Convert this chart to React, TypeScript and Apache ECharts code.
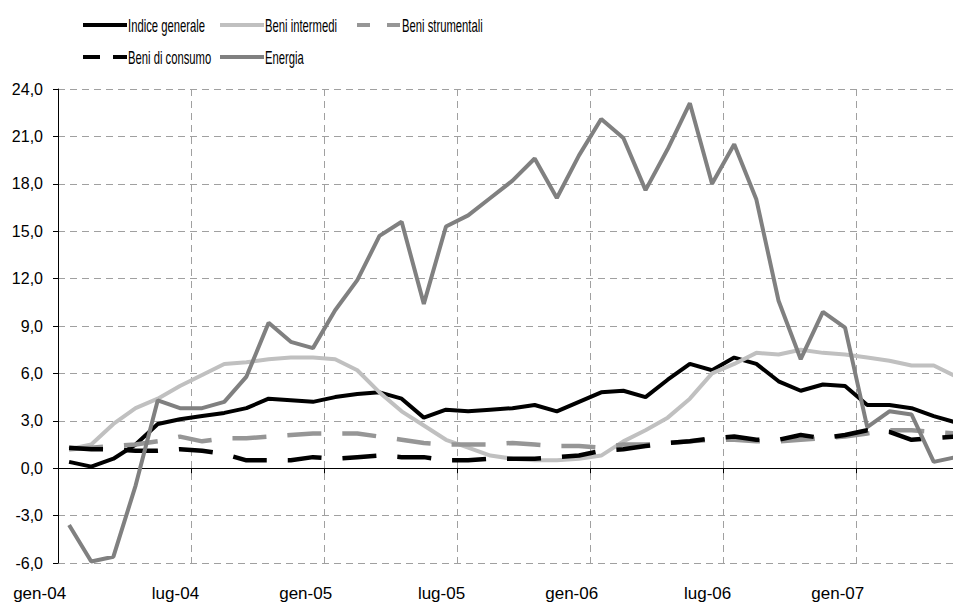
import React, { useEffect, useRef } from "react";
import * as echarts from "echarts";

const months = [
  "gen-04", "feb-04", "mar-04", "apr-04", "mag-04", "giu-04", "lug-04", "ago-04", "set-04", "ott-04", "nov-04", "dic-04",
  "gen-05", "feb-05", "mar-05", "apr-05", "mag-05", "giu-05", "lug-05", "ago-05", "set-05", "ott-05", "nov-05", "dic-05",
  "gen-06", "feb-06", "mar-06", "apr-06", "mag-06", "giu-06", "lug-06", "ago-06", "set-06", "ott-06", "nov-06", "dic-06",
  "gen-07", "feb-07", "mar-07", "apr-07", "mag-07",
];

const indiceGenerale = [
  0.4, 0.1, 0.6, 1.5, 2.8, 3.1, 3.3, 3.5, 3.8, 4.4, 4.3, 4.2,
  4.5, 4.7, 4.8, 4.4, 3.2, 3.7, 3.6, 3.7, 3.8, 4.0, 3.6, 4.2,
  4.8, 4.9, 4.5, 5.6, 6.6, 6.2, 7.0, 6.6, 5.5, 4.9, 5.3, 5.2,
  4.0, 4.0, 3.8, 3.3, 2.9,
];

const beniIntermedi = [
  1.2, 1.5, 2.8, 3.8, 4.4, 5.2, 5.9, 6.6, 6.7, 6.9, 7.0, 7.0,
  6.9, 6.2, 4.8, 3.6, 2.7, 1.8, 1.3, 0.8, 0.6, 0.5, 0.5, 0.6,
  0.8, 1.7, 2.4, 3.2, 4.4, 6.0, 6.6, 7.3, 7.2, 7.5, 7.3, 7.2,
  7.0, 6.8, 6.5, 6.5, 5.8,
];

const beniStrumentali = [
  1.2, 1.3, 1.4, 1.5, 1.7, 2.0, 1.7, 1.9, 1.9, 2.0, 2.1, 2.2,
  2.2, 2.2, 2.0, 1.8, 1.6, 1.5, 1.5, 1.5, 1.6, 1.5, 1.4, 1.4,
  1.3, 1.5, 1.5, 1.6, 1.7, 1.8, 1.8, 1.7, 1.7, 1.8, 1.9, 2.0,
  2.2, 2.4, 2.4, 2.3, 2.2,
];

const beniConsumo = [
  1.3, 1.2, 1.2, 1.1, 1.1, 1.2, 1.1, 0.9, 0.5, 0.5, 0.5, 0.7,
  0.6, 0.7, 0.8, 0.7, 0.7, 0.5, 0.5, 0.6, 0.6, 0.6, 0.7, 0.8,
  1.1, 1.2, 1.4, 1.6, 1.7, 1.9, 2.0, 1.8, 1.8, 2.1, 1.9, 2.1,
  2.4, 2.3, 1.8, 1.9, 2.0,
];

const energia = [
  -3.6, -5.9, -5.6, -1.1, 4.3, 3.8, 3.8, 4.2, 5.8, 9.2, 8.0, 7.6,
  10.0, 11.9, 14.7, 15.6, 10.4, 15.3, 16.0, 17.1, 18.2, 19.6, 17.1, 19.8,
  22.1, 20.9, 17.6, 20.2, 23.1, 18.0, 20.5, 17.0, 10.6, 6.9, 9.9, 8.9,
  2.6, 3.6, 3.4, 0.4, 0.7,
];

const seriesNames = ["Indice generale", "Beni intermedi", "Beni strumentali", "Beni di consumo", "Energia"];
const seriesColors = ["#000000", "#c0c0c0", "#969696", "#000000", "#808080"];

const FONT = "'Liberation Sans', Arial, sans-serif";

export default function App() {
  const ref = useRef<HTMLDivElement>(null);

  useEffect(() => {
    if (!ref.current) return;
    const chart = echarts.init(ref.current, undefined, { renderer: "svg" });

    // legend drawn as graphic (line sample + horizontally condensed label)
    const legendSlots = [
      { x: 83, y: 25, dash: null as number[] | null },
      { x: 220, y: 25, dash: null },
      { x: 357, y: 25, dash: [13, 17] },
      { x: 83, y: 57, dash: [17, 13] },
      { x: 220, y: 57, dash: null },
    ];
    const legendGraphic: any[] = [];
    seriesNames.forEach((name, i) => {
      const s = legendSlots[i];
      legendGraphic.push({
        type: "line",
        silent: true,
        shape: { x1: s.x, y1: s.y, x2: s.x + 44, y2: s.y },
        style: { stroke: seriesColors[i], lineWidth: 4, lineDash: s.dash || undefined },
      });
      legendGraphic.push({
        type: "text",
        silent: true,
        x: s.x + 45,
        y: s.y,
        scaleX: 0.626,
        style: {
          text: name,
          fontFamily: FONT,
          fontSize: 18,
          fill: "#000",
          align: "left",
          verticalAlign: "middle",
        },
      });
    });

    const option: any = {
      animation: false,
      backgroundColor: "#ffffff",
      graphic: legendGraphic,
      grid: { left: 58, top: 89, width: 909, height: 474, containLabel: false, outerBoundsMode: "none" },
      xAxis: [
        {
          type: "category",
          data: months,
          boundaryGap: true,
          position: "bottom",
          axisLine: { show: false, onZero: false },
          axisTick: { show: false },
          axisLabel: {
            interval: 5,
            align: "right",
            padding: [0, 3, 0, 0],
            margin: 22,
            fontFamily: FONT,
            fontSize: 17,
            color: "#000",
          },
          splitLine: {
            show: true,
            interval: 5,
            lineStyle: { color: "#a0a0a0", width: 1, type: [7, 5] },
          },
        },
        {
          type: "category",
          data: months,
          boundaryGap: true,
          position: "top",
          axisLine: { show: true, onZero: true, lineStyle: { color: "#000", width: 1 } },
          axisTick: { show: true, interval: 5, inside: true, length: 5, lineStyle: { color: "#000" } },
          axisLabel: { show: false },
          splitLine: { show: false },
        },
      ],
      yAxis: {
        type: "value",
        min: -6,
        max: 24,
        interval: 3,
        axisLine: { show: true, lineStyle: { color: "#000", width: 1 } },
        axisTick: { show: true, length: 5, lineStyle: { color: "#000" } },
        axisLabel: {
          margin: 15,
          fontFamily: FONT,
          fontSize: 16,
          color: "#000",
          formatter: (v: number) => v.toFixed(1).replace(".", ","),
        },
        splitLine: { show: true, lineStyle: { color: "#a0a0a0", width: 1, type: [7, 5] } },
      },
      series: [
        {
          name: seriesNames[0],
          type: "line",
          xAxisIndex: 0,
          data: indiceGenerale,
          symbol: "none",
          lineStyle: { color: seriesColors[0], width: 4 },
          itemStyle: { color: seriesColors[0] },
        },
        {
          name: seriesNames[1],
          type: "line",
          xAxisIndex: 0,
          data: beniIntermedi,
          symbol: "none",
          lineStyle: { color: seriesColors[1], width: 4 },
          itemStyle: { color: seriesColors[1] },
        },
        {
          name: seriesNames[2],
          type: "line",
          xAxisIndex: 0,
          data: beniStrumentali,
          symbol: "none",
          lineStyle: { color: seriesColors[2], width: 4.5, type: [34, 21] },
          itemStyle: { color: seriesColors[2] },
        },
        {
          name: seriesNames[3],
          type: "line",
          xAxisIndex: 0,
          data: beniConsumo,
          symbol: "none",
          lineStyle: { color: seriesColors[3], width: 4.5, type: [34, 21] },
          itemStyle: { color: seriesColors[3] },
        },
        {
          name: seriesNames[4],
          type: "line",
          xAxisIndex: 0,
          data: energia,
          symbol: "none",
          lineStyle: { color: seriesColors[4], width: 4 },
          itemStyle: { color: seriesColors[4] },
        },
      ],
    };

    chart.setOption(option);
    return () => chart.dispose();
  }, []);

  return (
    <div
      ref={ref}
      style={{ position: "fixed", left: 0, top: 0, width: 953, height: 603, background: "#fff" }}
    />
  );
}
